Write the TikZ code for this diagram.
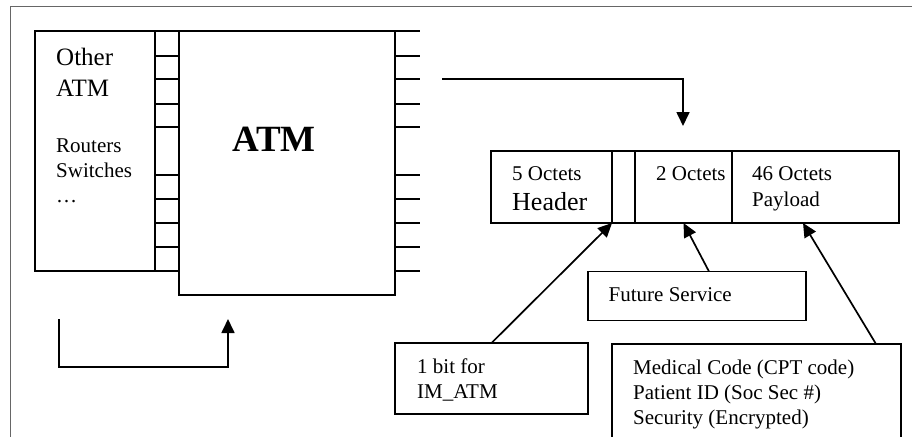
\documentclass[tikz,border=0pt]{standalone}
\usepackage{fontspec}
\setmainfont{Liberation Serif}
\usetikzlibrary{arrows.meta}
\begin{document}
\begin{tikzpicture}[x=1pt,y=-1pt,
  ln/.style={line width=1.7pt, draw=black},
  box/.style={ln, rectangle, inner sep=0pt, outer sep=0pt, anchor=north west},
  arr/.style={ln, -{Triangle[width=13pt,length=14pt]}},
  txt/.style={anchor=base west, inner sep=0pt, font=\fontsize{21}{24}\selectfont},
  bigtxt/.style={anchor=base west, inner sep=0pt, font=\fontsize{25}{30}\selectfont},
]
\useasboundingbox (0,0) rectangle (912,436);
\clip (0,0) rectangle (912,436);
% outer frame
\draw[gray!80!black, line width=1.6pt] (10.5,440) -- (10.5,6.5) -- (915,6.5);

% left devices
\node[box, minimum width=120pt, minimum height=240pt] (other) at (35,31) {};
\node[box, minimum width=24pt, minimum height=240pt] (strip) at (155,31) {};
\node[box, minimum width=216pt, minimum height=264pt] (atm) at (179,31) {};
\foreach \y in {56,79,104,127,175,199,223,247}
  \draw[ln] (155,\y) -- (179,\y);
\foreach \y in {31,56,79,104,127,175,199,223,247,271}
  \draw[ln] (395,\y) -- (420,\y);

\node[bigtxt] (oth1) at (56,65) {Other};
\node[bigtxt] (oth2) at (56,96.5) {ATM};
\node[txt] (rt) at (56,152.5) {Routers};
\node[txt] (sw) at (56,177.5) {Switches};
\node[txt] (dots) at (56,202.5) {\dots};
\node[anchor=base west, inner sep=0pt, font=\fontsize{37}{40}\selectfont\bfseries] (atmlbl) at (232,151) {ATM};

% arrow to packet
\coordinate (outA) at (442,79);
\coordinate (inP) at (683,126);
\draw[arr] (outA) -- (inP |- outA) -- (inP);

% packet cells
\node[box, minimum width=121pt, minimum height=72pt] (hdr) at (491,151) {};
\node[box, minimum width=23pt, minimum height=72pt] (bitc) at (612,151) {};
\node[box, minimum width=97pt, minimum height=72pt] (oct2) at (635,151) {};
\node[box, minimum width=167pt, minimum height=72pt] (pay) at (732,151) {};
\node[txt] (h1) at (512,180.5) {5 Octets};
\node[anchor=base west, inner sep=0pt, font=\fontsize{26}{30}\selectfont] (h2) at (512,210.5) {Header};
\node[txt] (o2) at (656,180.5) {2 Octets};
\node[txt] (p1) at (752,180.5) {46 Octets};
\node[txt] (p2) at (752,206) {Payload};

% annotation boxes
\node[box, minimum width=193pt, minimum height=71pt] (bitbox) at (395,343) {};
\node[txt] (b1) at (417,373.5) {1 bit for};
\node[txt] (b2) at (417,398.5) {IM\_ATM};

\node[box, minimum width=218pt, minimum height=49pt] (fut) at (588,271.5) {};
\node[txt] (f1) at (608.5,301) {Future Service};

\node[box, minimum width=289pt, minimum height=130pt] (med) at (612,344) {};
\node[txt] (m1) at (633,374) {Medical Code (CPT code)};
\node[txt] (m2) at (633,399) {Patient ID (Soc Sec \#)};
\node[txt] (m3) at (633,424) {Security (Encrypted)};

% pointer arrows
\coordinate (futS) at (709,271.5);
\coordinate (medS) at (876,344);
\coordinate (payT) at (803,223);
\draw[arr] (bitbox.north) -- (hdr.south east);
\draw[arr] (futS) -- (oct2.south);
\draw[arr] (medS) -- (payT);

% loop arrow
\coordinate (lA) at (59,319);
\coordinate (lB) at (228,319);
\draw[arr] (lA) -- (59,367) -- (228,367) -- (lB);
\end{tikzpicture}
\end{document}
